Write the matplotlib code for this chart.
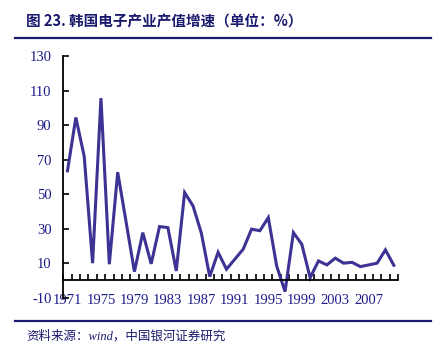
import matplotlib
matplotlib.use("Agg")
import matplotlib.pyplot as plt
from matplotlib.ticker import FixedLocator, NullFormatter

plt.rcParams["font.family"] = ["Liberation Serif", "Noto Sans CJK SC"]

years = list(range(1971, 2011))
growth = [63.5, 94.4, 71.8, 10.0, 105.6, 9.4, 62.7, 34.0, 5.1, 27.7,
          9.6, 31.2, 30.6, 5.5, 50.9, 43.2, 27.4, 2.2, 16.3, 6.5,
          12.3, 18.1, 29.7, 28.8, 36.4, 8.4, -6.5, 27.7, 21.0, 1.6,
          11.3, 9.0, 12.9, 10.0, 10.5, 8.0, 9.0, 10.0, 17.7, 8.8]
year_labels = [str(y) for y in years[::4]]
y_ticks = [-10, 10, 30, 50, 70, 90, 110, 130]

navy = "#1c1c8a"
rule = "#1a1a6e"
line_col = "#3d3394"

fig = plt.figure(figsize=(4.43, 3.49), dpi=100)
ax = fig.add_axes([0.1429, 0.147, 0.7555, 0.6925])

xs = list(range(len(years)))
ax.plot(xs, growth, color=line_col, lw=2.2, solid_joinstyle="miter")

ax.set_xlim(-0.5, len(years) - 0.5)
ax.set_ylim(-10, 130)

ax.spines["top"].set_visible(False)
ax.spines["right"].set_visible(False)
ax.spines["bottom"].set_position(("data", 0))
ax.spines["left"].set_linewidth(1.3)
ax.spines["bottom"].set_linewidth(1.3)

ax.set_yticks(y_ticks)
ax.set_yticklabels([str(v) for v in y_ticks])
ax.tick_params(axis="y", direction="in", length=4, width=1.2, pad=8.5,
               labelsize=10.5, labelcolor=navy)

ax.set_xticks(xs[::4])
ax.set_xticklabels(year_labels)
ax.xaxis.set_minor_locator(FixedLocator([i - 0.5 for i in range(len(years) + 1)]))
ax.xaxis.set_minor_formatter(NullFormatter())
ax.tick_params(axis="x", which="major", length=0, pad=9.5,
               labelsize=10.5, labelcolor=navy)
ax.tick_params(axis="x", which="minor", direction="in", length=4, width=1.2)

cjk = ["Noto Sans CJK SC", "DejaVu Sans"]
fig.text(0.059, 0.937, "图 23. 韩国电子产业产值增速（单位：%）", family=cjk,
         fontsize=10.5, fontweight="bold", color=rule, va="center")
fig.add_artist(plt.Line2D([0.034, 0.973], [0.890, 0.890], color=rule, lw=1.6))
fig.add_artist(plt.Line2D([0.034, 0.973], [0.080, 0.080], color=rule, lw=1.6))
fig.text(0.059, 0.037, "资料来源：wind，中国银河证券研究",
         family=["Liberation Serif", "Noto Sans CJK SC"],
         fontsize=9, style="italic", color=rule, va="center")

fig.savefig("out.png", dpi=100)
